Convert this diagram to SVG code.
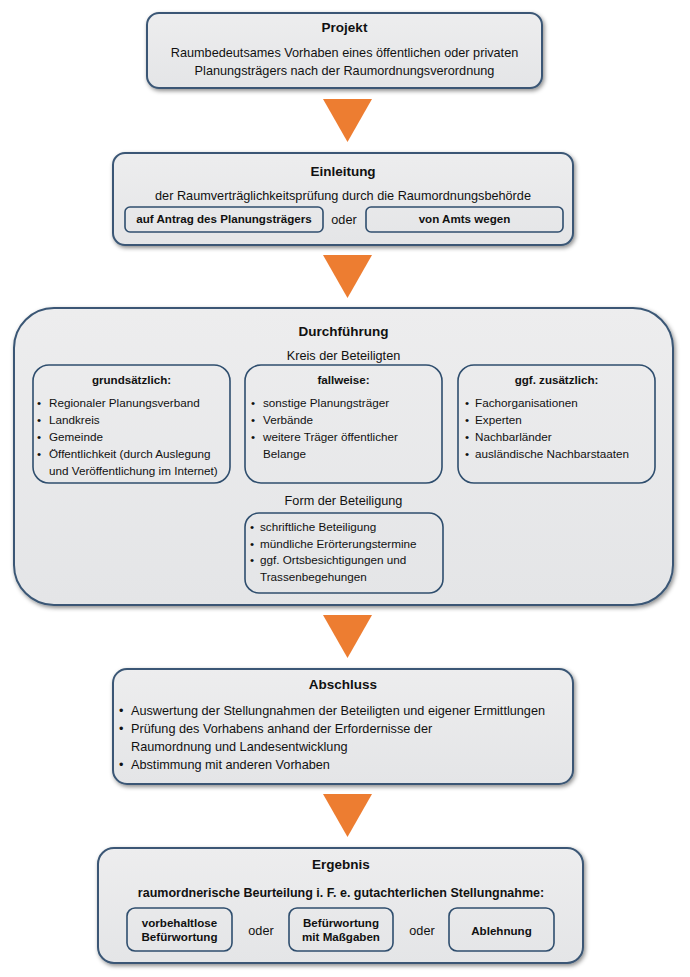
<svg xmlns="http://www.w3.org/2000/svg" width="690" height="977" viewBox="0 0 690 977">
<defs>
<filter id="sh" x="-10%" y="-10%" width="120%" height="130%">
<feDropShadow dx="1.5" dy="2" stdDeviation="2" flood-color="#000" flood-opacity="0.45"/>
</filter>
<linearGradient id="gf" x1="0" y1="0" x2="0" y2="1">
<stop offset="0" stop-color="#ededee"/>
<stop offset="1" stop-color="#e4e5e7"/>
</linearGradient>
</defs>
<style>
text{font-family:"Liberation Sans",Arial,sans-serif;fill:#111}
.main{fill:url(#gf);stroke:#3a5775;stroke-width:2;filter:url(#sh)}
.inner{fill:none;stroke:#2f4e6e;stroke-width:1.6}
.t{font-size:13.5px;font-weight:bold;text-anchor:middle}
.b{font-size:12.7px}
.bc{font-size:12.7px;text-anchor:middle}
.s{font-size:11.7px}
.sb{font-size:11.6px;font-weight:bold;text-anchor:middle}
.bb{font-size:12.5px;font-weight:bold;text-anchor:middle}
.arrow{fill:#ed7d31}
</style>
<rect width="690" height="977" fill="#fff"/>

<g id="connectors">
<polygon class="arrow" points="323,99 372,99 347.5,142"/>
<polygon class="arrow" points="323,255 372,255 347.5,298"/>
<polygon class="arrow" points="323,615 372,615 347.5,658"/>
<polygon class="arrow" points="323,794 372,794 347.5,837"/>
</g>

<g id="projekt">
<rect class="main" x="147" y="13" width="395" height="75" rx="12"/>
<text class="t" x="344.5" y="32">Projekt</text>
<text class="bc" x="344.5" y="57">Raumbedeutsames Vorhaben eines öffentlichen oder privaten</text>
<text class="bc" x="344.5" y="75">Planungsträgers nach der Raumordnungsverordnung</text>
</g>

<g id="einleitung">
<rect class="main" x="113" y="153" width="460" height="92" rx="12"/>
<text class="t" x="343" y="176">Einleitung</text>
<text class="bc" x="343" y="200">der Raumverträglichkeitsprüfung durch die Raumordnungsbehörde</text>
<g id="antrag">
<rect class="inner" x="125" y="207" width="198" height="25" rx="5"/>
<text class="sb" x="224" y="223">auf Antrag des Planungsträgers</text>
</g>
<text class="bc" x="344" y="224">oder</text>
<g id="amts">
<rect class="inner" x="366" y="207" width="197" height="25" rx="5"/>
<text class="sb" x="464.5" y="223">von Amts wegen</text>
</g>
</g>

<g id="durchfuehrung">
<rect class="main" x="14" y="308" width="659" height="297" rx="40"/>
<text class="t" x="343.5" y="336">Durchführung</text>
<text class="bc" x="343.5" y="360">Kreis der Beteiligten</text>
<g id="grundsaetzlich">
<rect class="inner" x="33" y="365" width="197" height="118" rx="16"/>
<text class="sb" x="131.5" y="384">grundsätzlich:</text>
<text class="s" x="37" y="407">•</text><text class="s" x="49" y="407">Regionaler Planungsverband</text>
<text class="s" x="37" y="424">•</text><text class="s" x="49" y="424">Landkreis</text>
<text class="s" x="37" y="441">•</text><text class="s" x="49" y="441">Gemeinde</text>
<text class="s" x="37" y="458">•</text><text class="s" x="49" y="458">Öffentlichkeit (durch Auslegung</text>
<text class="s" x="49" y="475">und Veröffentlichung im Internet)</text>
</g>
<g id="fallweise">
<rect class="inner" x="245" y="365" width="197" height="118" rx="16"/>
<text class="sb" x="343.5" y="384">fallweise:</text>
<text class="s" x="251" y="407">•</text><text class="s" x="263" y="407">sonstige Planungsträger</text>
<text class="s" x="251" y="424">•</text><text class="s" x="263" y="424">Verbände</text>
<text class="s" x="251" y="441">•</text><text class="s" x="263" y="441">weitere Träger öffentlicher</text>
<text class="s" x="263" y="458">Belange</text>
</g>
<g id="zusaetzlich">
<rect class="inner" x="458" y="365" width="197" height="118" rx="16"/>
<text class="sb" x="556.5" y="384">ggf. zusätzlich:</text>
<text class="s" x="465" y="407">•</text><text class="s" x="475" y="407">Fachorganisationen</text>
<text class="s" x="465" y="424">•</text><text class="s" x="475" y="424">Experten</text>
<text class="s" x="465" y="441">•</text><text class="s" x="475" y="441">Nachbarländer</text>
<text class="s" x="465" y="458">•</text><text class="s" x="475" y="458">ausländische Nachbarstaaten</text>
</g>
<text class="bc" x="343.5" y="505">Form der Beteiligung</text>
<g id="form">
<rect class="inner" x="245" y="513" width="198" height="80" rx="14"/>
<text class="s" x="250" y="531">•</text><text class="s" x="260" y="531">schriftliche Beteiligung</text>
<text class="s" x="250" y="548">•</text><text class="s" x="260" y="548">mündliche Erörterungstermine</text>
<text class="s" x="250" y="564">•</text><text class="s" x="260" y="564">ggf. Ortsbesichtigungen und</text>
<text class="s" x="260" y="581">Trassenbegehungen</text>
</g>
</g>

<g id="abschluss">
<rect class="main" x="113" y="669" width="460" height="115" rx="14"/>
<text class="t" x="343" y="689">Abschluss</text>
<text class="b" x="119" y="715">•</text><text class="b" x="131" y="715">Auswertung der Stellungnahmen der Beteiligten und eigener Ermittlungen</text>
<text class="b" x="119" y="733">•</text><text class="b" x="131" y="733">Prüfung des Vorhabens anhand der Erfordernisse der</text>
<text class="b" x="131" y="751">Raumordnung und Landesentwicklung</text>
<text class="b" x="119" y="769">•</text><text class="b" x="131" y="769">Abstimmung mit anderen Vorhaben</text>
</g>

<g id="ergebnis">
<rect class="main" x="98" y="848" width="485" height="115" rx="16"/>
<text class="t" x="341" y="869">Ergebnis</text>
<text class="bb" x="341" y="897">raumordnerische Beurteilung i. F. e. gutachterlichen Stellungnahme:</text>
<g id="vorbehaltlos">
<rect class="inner" x="127" y="908" width="105" height="43" rx="8"/>
<text class="sb" x="179.5" y="927">vorbehaltlose</text>
<text class="sb" x="179.5" y="941">Befürwortung</text>
</g>
<text class="bc" x="261" y="935">oder</text>
<g id="massgaben">
<rect class="inner" x="289" y="908" width="104" height="43" rx="8"/>
<text class="sb" x="341" y="927">Befürwortung</text>
<text class="sb" x="341" y="941">mit Maßgaben</text>
</g>
<text class="bc" x="422" y="935">oder</text>
<g id="ablehnung">
<rect class="inner" x="449" y="908" width="105" height="43" rx="8"/>
<text class="sb" x="501.5" y="935">Ablehnung</text>
</g>
</g>
</svg>
